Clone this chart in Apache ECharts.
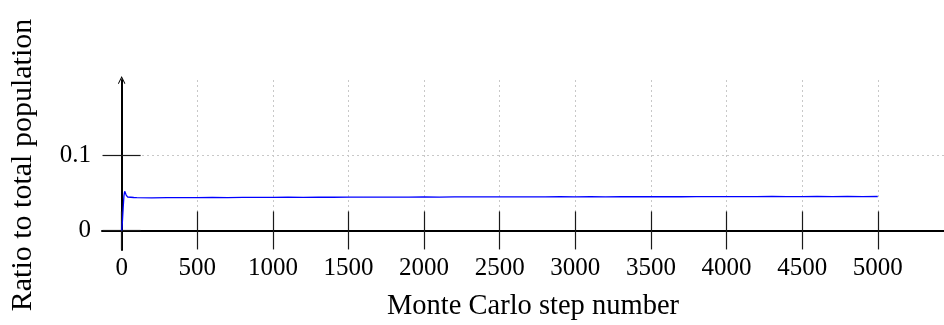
<!DOCTYPE html>
<html>
<head>
<meta charset="utf-8">
<script src="https://cdn.jsdelivr.net/npm/echarts@6/dist/echarts.min.js"></script>
<style>
  html, body { margin: 0; padding: 0; background: #fff; }
  #chart { width: 944px; height: 325px; }
</style>
</head>
<body>
<div id="chart"></div>
<script>
// Monte Carlo run: fraction of the population over the simulation steps
const steps = [
  0, 5, 10, 15, 20, 25, 30, 35, 40, 50, 60, 80,
  100, 200, 300, 400, 500, 600, 700, 800, 900, 1000,
  1100, 1200, 1300, 1400, 1500, 1600, 1700, 1800, 1900, 2000,
  2100, 2200, 2300, 2400, 2500, 2600, 2700, 2800, 2900, 3000,
  3100, 3200, 3300, 3400, 3500, 3600, 3700, 3800, 3900, 4000,
  4100, 4200, 4300, 4400, 4500, 4600, 4700, 4800, 4900, 5000
];
const ratio = [
  0, 0.012, 0.030, 0.046, 0.052, 0.050, 0.047, 0.0448, 0.0442, 0.0440, 0.0441, 0.0438,
  0.0437, 0.0434, 0.0436, 0.0435, 0.0437, 0.0438, 0.0437, 0.0439, 0.0440, 0.0439,
  0.0441, 0.0440, 0.0442, 0.0441, 0.0443, 0.0442, 0.0443, 0.0444, 0.0443, 0.0445,
  0.0444, 0.0446, 0.0445, 0.0446, 0.0447, 0.0446, 0.0447, 0.0446, 0.0448, 0.0447,
  0.0448, 0.0447, 0.0449, 0.0448, 0.0448, 0.0449, 0.0448, 0.0450, 0.0449, 0.0449,
  0.0450, 0.0449, 0.0451, 0.0450, 0.0450, 0.0451, 0.0450, 0.0451, 0.0450, 0.0451
];
const xTicks = [0, 500, 1000, 1500, 2000, 2500, 3000, 3500, 4000, 4500, 5000];
const yTicks = [0, 0.1];

const FONT = '"Liberation Serif", "DejaVu Serif", serif';

// full plotting range of the axes
const X_MIN = -130, X_MAX = 5438;
const Y_MIN = -0.026, Y_MAX = 0.2;
// tick spacing
const X_STEP = 500, Y_STEP = 0.1;

// pixel frame of the main grid
const W = 944, H = 325;
const LEFT = 102, RIGHT = 0, TOP = 80, BOTTOM = 75;
const plotW = W - LEFT - RIGHT, plotH = H - TOP - BOTTOM;
const px = v => LEFT + (v - X_MIN) / (X_MAX - X_MIN) * plotW;
const py = v => TOP + (Y_MAX - v) / (Y_MAX - Y_MIN) * plotH;

const xFirst = xTicks[0], xLast = xTicks[xTicks.length - 1];
const yFirst = yTicks[0], yLast = yTicks[yTicks.length - 1];

const chart = echarts.init(document.getElementById('chart'), null, { renderer: 'canvas' });

const arrowHead = 'path://M0,10 L5,0 L10,10 L9,10.8 L5,3 L1,10.8 Z';
const tickLine = () => ({ color: '#1a1a1a', width: 1.2, type: 'solid' });
const gridLine = () => ({ color: '#c8c8c8', width: 1, type: [2, 3] });
const TICK_LEN = 19;

chart.setOption({
  animation: false,
  backgroundColor: '#fff',
  grid: [
    // 0: main plot
    { left: LEFT, right: RIGHT, top: TOP, bottom: BOTTOM, outerBoundsMode: 'none' },
    // 1: x ticks / vertical grid lines (from first to last labelled step)
    { left: px(xFirst), right: W - px(xLast), top: TOP, bottom: BOTTOM, outerBoundsMode: 'none' },
    // 2: y ticks / horizontal grid lines
    { left: LEFT, right: RIGHT, top: py(yLast), bottom: H - py(yFirst), outerBoundsMode: 'none' }
  ],
  xAxis: [
    {
      gridIndex: 0, type: 'value', min: X_MIN, max: X_MAX,
      name: 'Monte Carlo step number',
      nameLocation: 'middle', nameGap: 42, nameMoveOverlap: false,
      nameTextStyle: { fontFamily: FONT, fontSize: 28.5, color: '#000', padding: [0, 0, 0, 20] },
      axisLine: { show: true, onZero: true, onZeroAxisIndex: 0, lineStyle: { color: '#000', width: 2 } },
      axisTick: { show: false },
      axisLabel: {
        show: true, customValues: xTicks, margin: 6,
        fontFamily: FONT, fontSize: 25, color: '#000',
        formatter: v => String(v)
      },
      splitLine: { show: false }
    },
    {
      gridIndex: 1, type: 'value', min: xFirst, max: xLast, interval: X_STEP, position: 'bottom',
      axisLine: { show: false, onZero: true, onZeroAxisIndex: 1 },
      axisTick: { show: true, length: TICK_LEN, lineStyle: tickLine() },
      axisLabel: { show: false },
      splitLine: { show: true, lineStyle: gridLine() }
    },
    {
      gridIndex: 1, type: 'value', min: xFirst, max: xLast, interval: X_STEP, position: 'top',
      axisLine: { show: false, onZero: true, onZeroAxisIndex: 1 },
      axisTick: { show: true, length: TICK_LEN, lineStyle: tickLine() },
      axisLabel: { show: false },
      splitLine: { show: false }
    },
    {
      gridIndex: 2, type: 'value', min: X_MIN, max: X_MAX, show: false
    }
  ],
  yAxis: [
    {
      gridIndex: 0, type: 'value', min: Y_MIN, max: Y_MAX,
      name: 'Ratio to total population',
      nameLocation: 'middle', nameGap: 64, nameRotate: 90, nameMoveOverlap: false,
      nameTextStyle: { fontFamily: FONT, fontSize: 30, color: '#000' },
      axisLine: {
        show: true, onZero: true, onZeroAxisIndex: 0,
        symbol: ['none', arrowHead], symbolSize: [12, 8],
        lineStyle: { color: '#000', width: 2 }
      },
      axisTick: { show: false },
      axisLabel: {
        show: true, customValues: yTicks, margin: 11,
        fontFamily: FONT, fontSize: 25, color: '#000',
        formatter: v => (v === 0 ? '0' : String(v))
      },
      splitLine: { show: false }
    },
    {
      gridIndex: 1, type: 'value', min: Y_MIN, max: Y_MAX, show: false
    },
    {
      gridIndex: 2, type: 'value', min: yFirst, max: yLast, interval: Y_STEP, position: 'left',
      axisLine: { show: false, onZero: true, onZeroAxisIndex: 3 },
      axisTick: { show: true, length: TICK_LEN, lineStyle: tickLine() },
      axisLabel: { show: false },
      splitLine: { show: true, lineStyle: gridLine() }
    },
    {
      gridIndex: 2, type: 'value', min: yFirst, max: yLast, interval: Y_STEP, position: 'right',
      axisLine: { show: false, onZero: true, onZeroAxisIndex: 3 },
      axisTick: { show: true, length: TICK_LEN, lineStyle: tickLine() },
      axisLabel: { show: false },
      splitLine: { show: false }
    }
  ],
  series: [
    {
      type: 'line',
      xAxisIndex: 0, yAxisIndex: 0,
      data: steps.map((s, i) => [s, ratio[i]]),
      showSymbol: false,
      lineStyle: { color: '#0000ff', width: 1.3 },
      z: 5
    }
  ]
});
</script>
</body>
</html>
